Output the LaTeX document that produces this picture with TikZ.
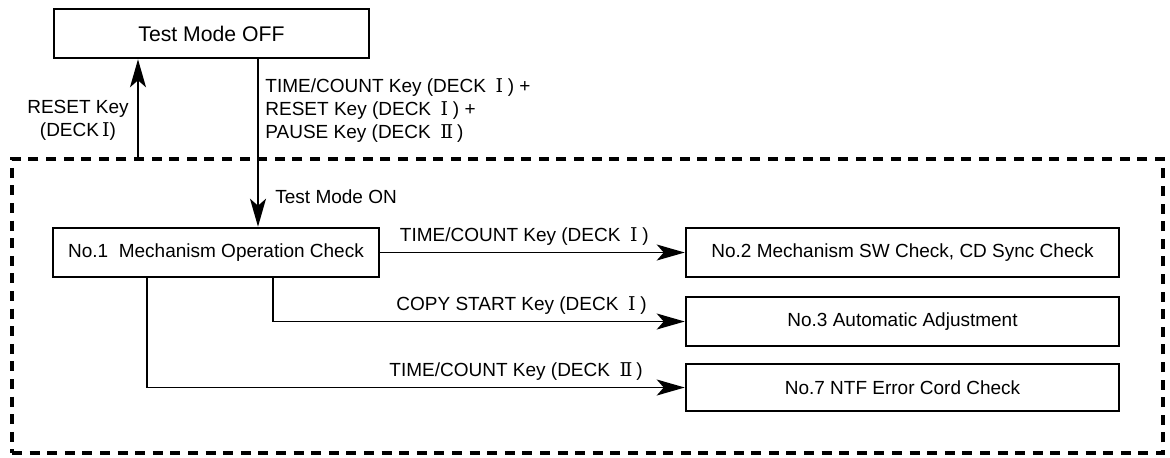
\documentclass[tikz,border=0pt]{standalone}
\usepackage{fontspec}
\setmainfont{Liberation Sans}
\newfontfamily\numfont{DejaVu Serif}
\usetikzlibrary{arrows.meta}
% deck numerals, set with the spacing of the printed panel legends
\newcommand{\dkI}{\hspace{0.5em}{\numfont Ⅰ}\hspace{0.25em}}
\newcommand{\dkII}{\hspace{0.5em}{\numfont Ⅱ}\hspace{0.2em}}
\tikzset{
  stepbox/.style={draw, line width=1.3pt, inner sep=0pt, font=\fontsize{9.5}{11.5}\selectfont},
  link/.style={line width=0.8pt, -{Stealth[length=14pt, width=8pt, inset=3.5pt]}},
  lbl/.style={inner sep=0pt, font=\fontsize{9.5}{11.5}\selectfont},
  zone/.style={draw, line width=2.2pt, dash pattern=on 5pt off 3.8pt, inner sep=0pt}
}
\begin{document}
\begin{tikzpicture}[x=0.5pt, y=-0.5pt]
\useasboundingbox (0,0) rectangle (1170,457);

% test-mode area
\node[zone, minimum width=575.5pt, minimum height=147pt] (zone) at (587.5,306) {};

% mode boxes
\node[stepbox, minimum width=157.5pt, minimum height=24.5pt,
      font=\fontsize{10.6}{12}\selectfont] (off) at (211.5,33.5) {Test Mode OFF};
\node[stepbox, minimum width=163pt, minimum height=24.5pt] (m1) at (216,252.5)
  {No.1\ \ Mechanism Operation Check};
\node[stepbox, minimum width=216.5pt, minimum height=24.5pt] (m2) at (902.5,252.5)
  {No.2 Mechanism SW Check, CD Sync Check};
\node[stepbox, minimum width=216.5pt, minimum height=24.5pt] (m3) at (902.5,321.5)
  {No.3 Automatic Adjustment};
\node[stepbox, minimum width=216.5pt, minimum height=23.5pt] (m7) at (902.5,387.5)
  {No.7 NTF Error Cord Check};

% connector columns
\coordinate (cUp) at (138,0);
\coordinate (cDown) at (258,0);
\coordinate (c3) at (273,0);
\coordinate (c7) at (147,0);

% connectors
\draw[link] (zone.north -| cUp) -- (off.south -| cUp);
\draw[link, line width=0.9pt] (off.south -| cDown) -- (m1.north -| cDown);
\draw[link] (m1.east) -- (m2.west);
\draw[link] (m1.south -| c3) |- (m3.west);
\draw[link] (m1.south -| c7) |- (m7.west);

% labels
\node[lbl, align=center] (lreset) at (78,120)
  {RESET Key\\(DECK\,{\numfont Ⅰ})};
\node[lbl, align=left, anchor=west] (lon) at (265,111)
  {TIME/COUNT Key (DECK\dkI) +\\RESET Key (DECK\dkI) +\\PAUSE Key (DECK\dkII)};
\node[lbl, anchor=west] (lmode) at (275,197) {Test Mode ON};
\node[lbl, anchor=east] (l2) at (649,237) {TIME/COUNT Key (DECK\dkI)};
\node[lbl, anchor=east] (l3) at (647,306) {COPY START Key (DECK\dkI)};
\node[lbl, anchor=east] (l7) at (643,372) {TIME/COUNT Key (DECK\dkII)};
\end{tikzpicture}
\end{document}
